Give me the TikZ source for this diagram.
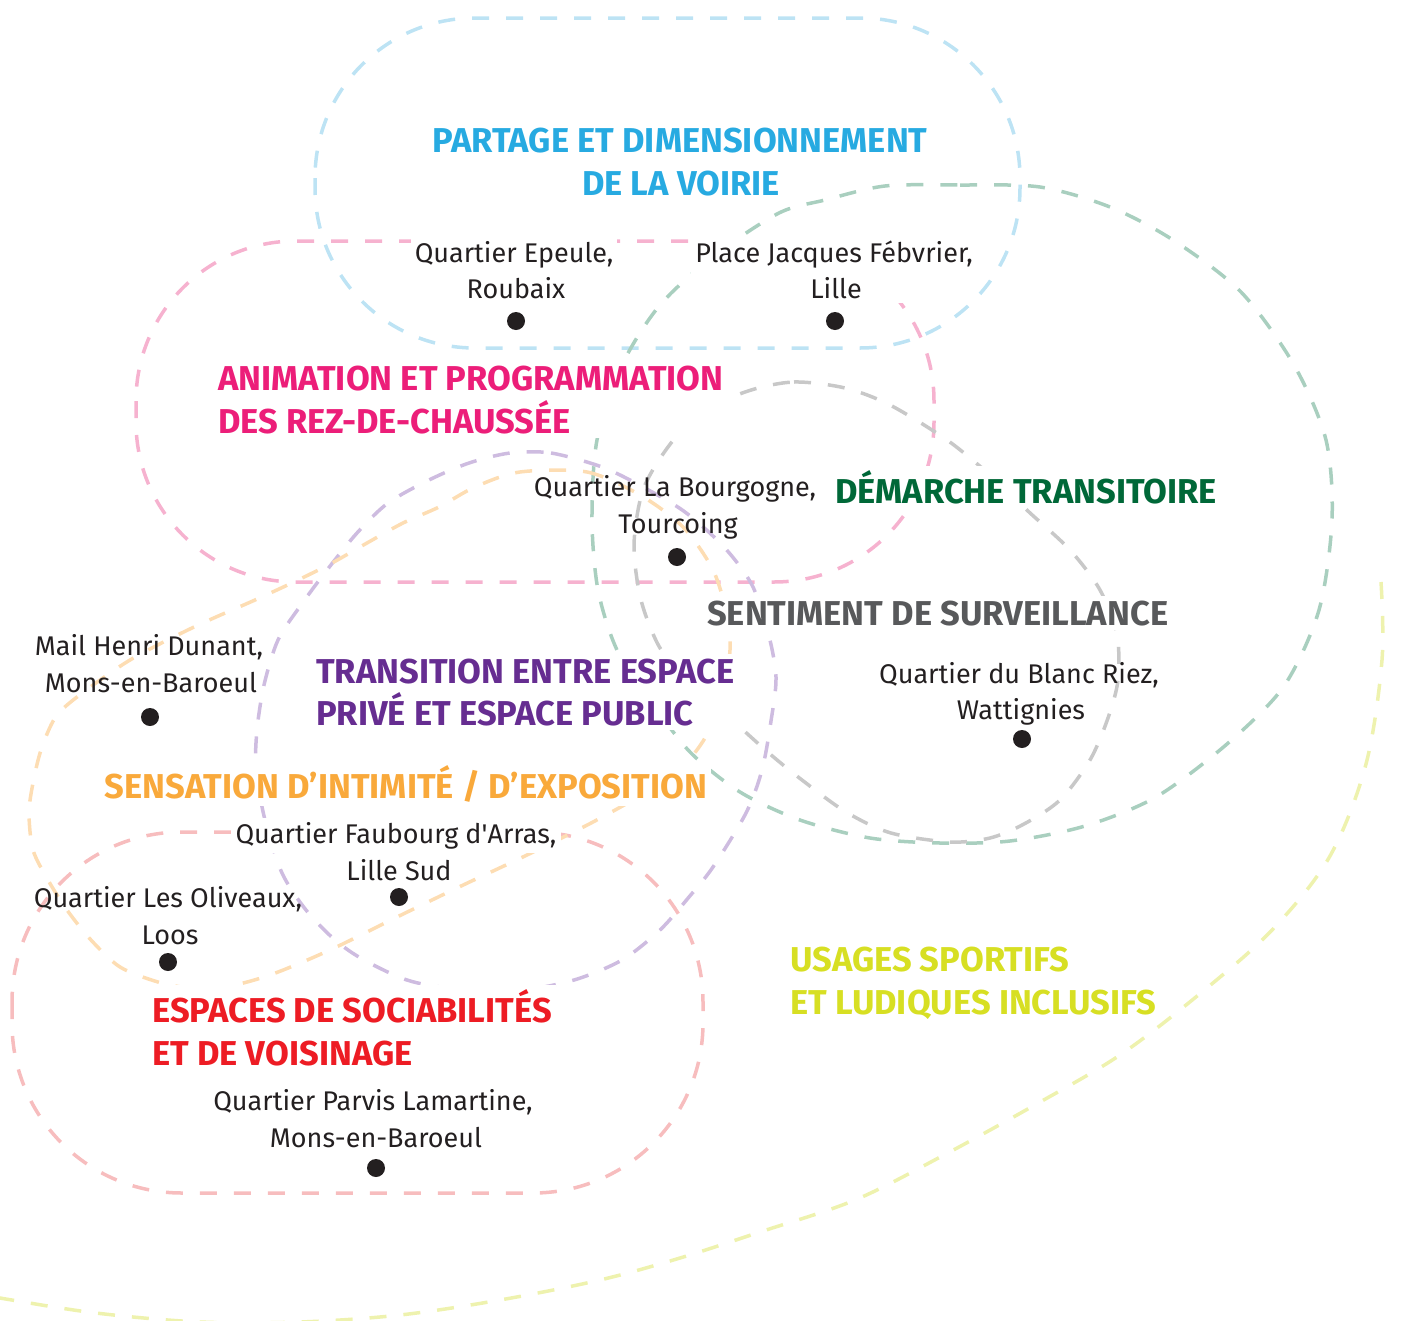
\documentclass[tikz,border=0pt]{standalone}
\usepackage{fontspec}
\setmainfont{Fira Sans}
\usetikzlibrary{fit}
\definecolor{ink}{HTML}{231F20}
\definecolor{tblue}{HTML}{27AAE1}
\definecolor{lblue}{HTML}{BDE3F4}
\definecolor{tpink}{HTML}{EC1E79}
\definecolor{lpink}{HTML}{F6B2CF}
\definecolor{tgreen}{HTML}{006838}
\definecolor{lgreen}{HTML}{A9CFBF}
\definecolor{tgray}{HTML}{58595B}
\definecolor{lgray}{HTML}{C8C8C8}
\definecolor{tpurple}{HTML}{662D91}
\definecolor{lpurple}{HTML}{CEBCE0}
\definecolor{torange}{HTML}{F9A93B}
\definecolor{lorange}{HTML}{FDDDB3}
\definecolor{tred}{HTML}{ED1C24}
\definecolor{lred}{HTML}{F7BDBE}
\definecolor{tyellow}{HTML}{D7DF23}
\definecolor{lyellow}{HTML}{EEF2AE}
\pgfdeclarelayer{shapes}
\pgfdeclarelayer{masks}
\pgfsetlayers{shapes,masks,main}
\tikzset{
  blobline/.style={line width=3.5pt, dash pattern=on 17pt off 17pt},
  headtxt/.style={font=\fontsize{34.5}{41}\selectfont\bfseries, inner sep=0pt},
  labeltxt/.style={font=\fontsize{27}{33}\selectfont, text=ink, inner sep=0pt},
  placedot/.style={circle, fill=ink, minimum size=18pt, inner sep=0pt},
  hidebox/.style={fill=white, inner sep=4pt}
}
\begin{document}
\begin{tikzpicture}[x=1pt,y=-1pt]
\useasboundingbox (0,0) rectangle (1403,1320);

% ---------- headings ----------
\node[headtxt, text=tblue, anchor=base] (pa1) at (680,152) {PARTAGE ET DIMENSIONNEMENT};
\node[headtxt, text=tblue, anchor=base] (pa2) at (681,195) {DE LA VOIRIE};
\node[headtxt, text=tpink, anchor=base west] (an1) at (218,390) {ANIMATION ET PROGRAMMATION};
\node[headtxt, text=tpink, anchor=base west] (an2) at (218,433) {DES REZ-DE-CHAUSSÉE};
\node[headtxt, text=tgreen, anchor=base west] (de1) at (835,503) {DÉMARCHE TRANSITOIRE};
\node[headtxt, text=tgray, anchor=base west] (se1) at (707,625) {SENTIMENT DE SURVEILLANCE};
\node[headtxt, text=tpurple, anchor=base west] (tr1) at (316,683) {TRANSITION ENTRE ESPACE};
\node[headtxt, text=tpurple, anchor=base west] (tr2) at (316,725) {PRIVÉ ET ESPACE PUBLIC};
\node[headtxt, text=torange, anchor=base] (sn1) at (406,798) {SENSATION D’INTIMITÉ / D’EXPOSITION};
\node[headtxt, text=tred, anchor=base west] (es1) at (152,1022) {ESPACES DE SOCIABILITÉS};
\node[headtxt, text=tred, anchor=base west] (es2) at (152,1065) {ET DE VOISINAGE};
\node[headtxt, text=tyellow, anchor=base west] (us1) at (790,971) {USAGES SPORTIFS};
\node[headtxt, text=tyellow, anchor=base west] (us2) at (790,1014) {ET LUDIQUES INCLUSIFS};

% ---------- place labels ----------
\node[labeltxt, anchor=base] (ep1) at (514,262) {Quartier Epeule,};
\node[labeltxt, anchor=base] (ep2) at (516,298) {Roubaix};
\node[placedot] (epd) at (516,321) {};
\node[labeltxt, anchor=base] (pj1) at (834,262) {Place Jacques Fébvrier,};
\node[labeltxt, anchor=base] (pj2) at (836,298) {Lille};
\node[placedot] (pjd) at (835,321) {};
\node[labeltxt, anchor=base] (bo1) at (675,496) {Quartier La Bourgogne,};
\node[labeltxt, anchor=base] (bo2) at (678,533) {Tourcoing};
\node[placedot] (bod) at (677,557) {};
\node[labeltxt, anchor=base] (br1) at (1019,683) {Quartier du Blanc Riez,};
\node[labeltxt, anchor=base] (br2) at (1021,719) {Wattignies};
\node[placedot] (brd) at (1022,739) {};
\node[labeltxt, anchor=base] (mh1) at (149,655) {Mail Henri Dunant,};
\node[labeltxt, anchor=base] (mh2) at (151,692) {Mons-en-Baroeul};
\node[placedot] (mhd) at (150,717) {};
\node[labeltxt, anchor=base] (fa1) at (396,843) {Quartier Faubourg d\textquotesingle Arras,};
\node[labeltxt, anchor=base] (fa2) at (399,880) {Lille Sud};
\node[placedot] (fad) at (399,897) {};
\node[labeltxt, anchor=base] (ol1) at (168,907) {Quartier Les Oliveaux,};
\node[labeltxt, anchor=base] (ol2) at (170,944) {Loos};
\node[placedot] (old) at (168,962) {};
\node[labeltxt, anchor=base] (pl1) at (373,1110) {Quartier Parvis Lamartine,};
\node[labeltxt, anchor=base] (pl2) at (376,1147) {Mons-en-Baroeul};
\node[placedot] (pld) at (376,1168) {};

% ---------- white masks behind texts ----------
\begin{pgfonlayer}{masks}
\node[hidebox, fit=(an1)(an2)] {};
\node[hidebox, fit=(de1)] {};
\node[hidebox, fit=(se1)] {};
\node[hidebox, fit=(tr1)(tr2)] {};
\node[hidebox, fit=(sn1)] {};
\node[hidebox, fit=(es1)(es2)] {};
\node[hidebox, fit=(ep1)(ep2)] {};
\node[hidebox, fit=(pj1)(pj2)] {};
\node[hidebox, fit=(fa1)] {};
\end{pgfonlayer}

% ---------- dashed outlines ----------
\begin{pgfonlayer}{shapes}
\clip (0,0) rectangle (1403,1320);
% usages sportifs
\draw[blobline, lyellow] plot[smooth, tension=0.55] coordinates {
 (1381,582) (1382,660) (1366,764) (1330,856) (1273,929) (1202,992) (1120,1055)
 (1033,1106) (944,1155) (855,1200) (760,1232) (680,1258) (600,1280) (500,1300)
 (400,1315) (300,1322) (200,1322) (96,1313) (0,1298) (-40,1290)};
% partage
\draw[blobline, lblue, rounded corners=160pt] (315,18) rectangle (1020,348);
% animation
\draw[blobline, lpink, rounded corners=160pt] (136,241) rectangle (934,582);
% espaces de sociabilites
\draw[blobline, lred, rounded corners=170pt] (12,832) rectangle (703,1193);
% demarche transitoire
\draw[blobline, lgreen] plot[smooth cycle, tension=0.5] coordinates {
 (885,186) (960,185) (1040,187) (1110,207) (1173,240) (1241,292) (1294,365)
 (1326,440) (1332,520) (1319,610) (1284,686) (1227,744) (1156,797) (1085,826)
 (1010,841) (940,843) (870,838) (800,820) (740,792) (690,752) (650,700)
 (617,650) (598,590) (592,520) (597,440) (622,365) (660,305) (715,255)
 (779,213) (825,200)};
% sentiment de surveillance
\draw[blobline, lgray] plot[smooth cycle, tension=0.5] coordinates {
 (748,391) (794,382) (845,388) (890,405) (947,440) (990,475) (1029,512)
 (1070,550) (1100,590) (1117,635) (1118,680) (1108,718) (1090,760) (1060,800)
 (1024,824) (990,838) (950,842) (891,833) (846,812) (802,780) (770,754)
 (732,720) (690,683) (660,648) (641,600) (634,545) (643,490) (668,447) (700,413)};
% transition
\draw[blobline, lpurple] plot[smooth cycle, tension=0.5] coordinates {
 (510,453) (551,453) (602,467) (643,487) (685,512) (724,547) (752,585)
 (768,632) (776,677) (771,721) (762,770) (746,813) (713,867) (689,897)
 (660,930) (622,960) (574,980) (520,990) (450,988) (407,980) (364,960)
 (335,940) (306,910) (282,873) (265,820) (256,770) (257,730) (264,685)
 (278,640) (301,605) (327,570) (357,533) (388,503) (429,480) (469,463)};
% sensation
\draw[blobline, lorange] plot[smooth cycle, tension=0.5] coordinates {
 (520,472) (587,472) (640,495) (683,527) (713,570) (727,615) (730,650)
 (722,700) (705,738) (683,766) (650,790) (593,822) (527,855) (459,887)
 (395,918) (330,950) (270,975) (225,987) (190,988) (158,982) (120,967)
 (91,940) (67,910) (48,880) (33,850) (29,813) (33,783) (41,750) (55,718)
 (77,697) (130,660) (194,627) (255,600) (296,581) (332,563) (367,543)
 (403,523) (439,507) (475,487)};
\end{pgfonlayer}
\end{tikzpicture}
\end{document}
